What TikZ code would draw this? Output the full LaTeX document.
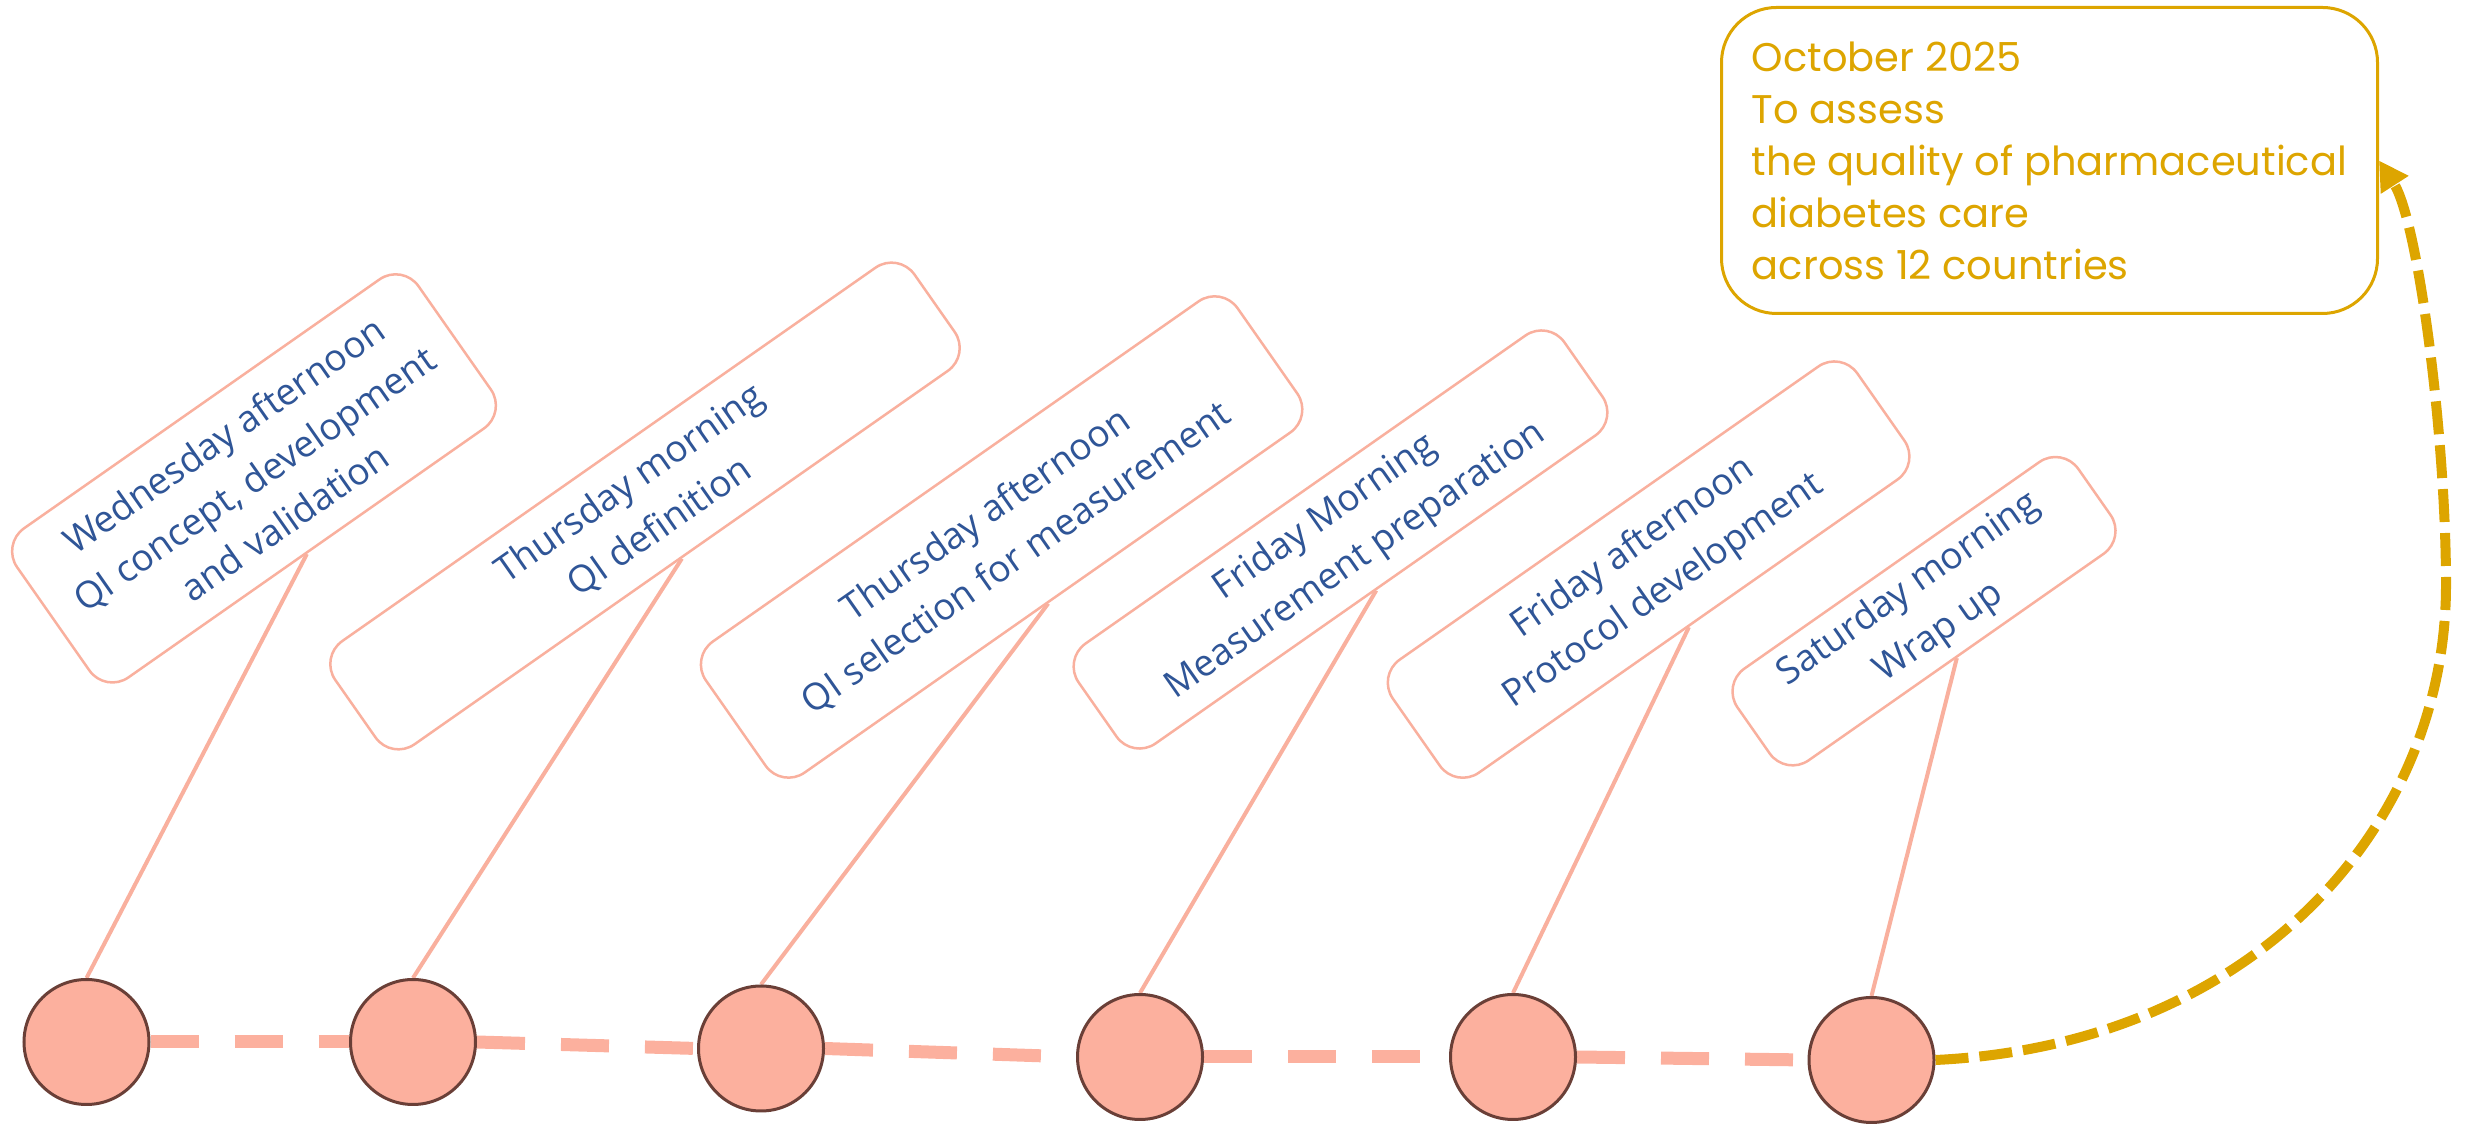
\documentclass[tikz,border=0pt]{standalone}
\usepackage{fontspec}
\setmainfont{Open Sans}
\newfontfamily\goalfont{Poppins}
\usetikzlibrary{arrows.meta,backgrounds}
\definecolor{salmon}{HTML}{FCB09E}
\definecolor{salmonline}{HTML}{F9B09E}
\definecolor{brownline}{HTML}{6A3F37}
\definecolor{bluetxt}{HTML}{2F5597}
\definecolor{gold}{HTML}{DDA500}
\begin{document}
\begin{tikzpicture}[x=1pt,y=1pt,
  sess/.style={draw=salmonline, line width=2.5pt, rounded corners=28pt, rotate=35,
    align=center, text=bluetxt, font=\fontsize{37}{53}\selectfont, inner sep=0pt, fill=white},
  dot/.style={circle, draw=brownline, line width=3pt, fill=salmon, minimum size=125pt, inner sep=0pt},
  link/.style={draw=salmonline, line width=4pt},
  chain/.style={draw=salmon, line width=13pt, dash pattern=on 48pt off 36pt},
  goalbox/.style={draw=gold, line width=3pt, rounded corners=55pt, minimum width=656pt,
    minimum height=306pt, inner sep=0pt, align=left, text=gold, font=\goalfont\fontsize{40}{52}\selectfont},
  goalarrow/.style={draw=gold, line width=10pt, dash pattern=on 33pt off 11pt,
    -{Triangle[length=29pt,width=31pt]}}
]
\useasboundingbox (0,0) rectangle (2469,1124);

% circles
\node[dot] (c1) at (86.5,82) {};
\node[dot] (c2) at (413,82) {};
\node[dot] (c3) at (761,75.5) {};
\node[dot] (c4) at (1140,67) {};
\node[dot] (c5) at (1513,67) {};
\node[dot] (c6) at (1871.5,64) {};

% session boxes
\node[sess, minimum width=490pt, minimum height=182pt] (b1) at (254,645.6)
  {Wednesday afternoon\\QI concept, development\\and validation};
\node[sess, minimum width=707pt, minimum height=126pt] (b2) at (645,618)
  {Thursday morning\\QI definition};
\node[sess, minimum width=649pt, minimum height=160pt] (b3) at (1001.6,587)
  {Thursday afternoon\\QI selection for measurement};
\node[sess, minimum width=593pt, minimum height=122pt] (b4) at (1340.5,584.5)
  {Friday Morning\\Measurement preparation};
\node[sess, minimum width=567pt, minimum height=138pt] (b5) at (1648.6,554.4)
  {Friday afternoon\\Protocol development};
\node[sess, minimum width=416pt, minimum height=112pt] (b6) at (1924,512.8)
  {Saturday morning\\Wrap up};

% goal box
\node[goalbox] (goal) at (2049.5,963.5)
  {October 2025\\To assess\\the quality of pharmaceutical\\diabetes care\\across 12 countries};

\begin{scope}[on background layer]
  \draw[chain] (c1.east) -- (c2.west);
  \draw[chain] (c2.east) -- (c3.west);
  \draw[chain] (c3.east) -- (c4.west);
  \draw[chain] (c4.east) -- (c5.west);
  \draw[chain] (c5.east) -- (c6.west);
  \draw[link] (c1.north) -- (b1.south);
  \draw[link] (c2.north) -- (b2.south);
  \draw[link] (c3.north) -- (b3.south);
  \draw[link] (c4.north) -- (b4.south);
  \draw[link] (c5.north) -- (b5.south);
  \draw[link] (c6.north) -- (b6.south);
\end{scope}

\draw[goalarrow] (c6.east) .. controls (2250,79) and (2446,294) .. (2446,539)
  .. controls (2446,689) and (2418,903) .. (goal.east);
\end{tikzpicture}
\end{document}
